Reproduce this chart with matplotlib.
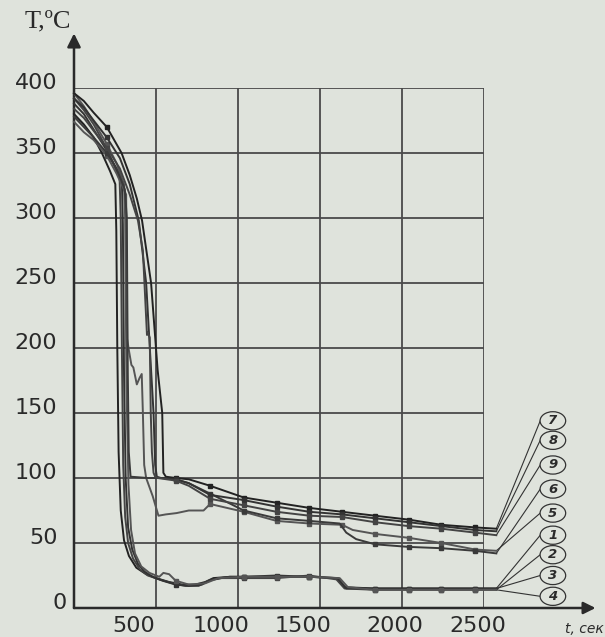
import matplotlib
matplotlib.use("Agg")
import matplotlib.pyplot as plt
from matplotlib.patches import Ellipse
from matplotlib.transforms import ScaledTranslation

# cooling curves, t in s, T in degC
c1_t = [0, 60, 120, 170, 220, 252, 258, 264, 272, 285, 305, 335, 380, 440, 500, 580, 660, 740, 800, 850, 950, 1035, 1235, 1435, 1600, 1650, 1835, 2040, 2240, 2445, 2575]
c1_T = [380, 372, 362, 350, 336, 326, 290, 200, 120, 75, 52, 40, 31, 26, 23, 20, 18, 18, 20, 23, 24, 24, 24, 24, 23, 16, 15, 15, 15, 15, 15]
c2_t = [0, 60, 120, 180, 240, 278, 285, 292, 300, 312, 330, 360, 400, 450, 520, 600, 680, 760, 820, 900, 1035, 1235, 1435, 1600, 1650, 1835, 2040, 2240, 2445, 2575]
c2_T = [392, 383, 372, 358, 342, 330, 300, 200, 110, 70, 50, 38, 30, 25, 22, 19, 17, 17, 21, 23, 23, 23, 25, 22, 15, 14, 14, 14, 14, 14]
c3_t = [0, 60, 120, 190, 250, 292, 298, 305, 315, 330, 355, 390, 430, 480, 540, 620, 700, 780, 840, 950, 1035, 1235, 1435, 1610, 1660, 1835, 2040, 2240, 2445, 2575]
c3_T = [388, 380, 368, 354, 340, 328, 295, 180, 100, 62, 45, 34, 28, 24, 21, 18, 17, 18, 22, 24, 24, 25, 24, 23, 15, 15, 15, 15, 15, 15]
c4_t = [0, 60, 120, 200, 260, 305, 312, 320, 332, 348, 372, 410, 460, 520, 545, 580, 620, 700, 800, 880, 1035, 1235, 1435, 1620, 1670, 1835, 2040, 2240, 2445, 2575]
c4_T = [396, 386, 374, 357, 342, 326, 300, 170, 95, 60, 42, 32, 27, 24, 27, 26, 21, 18, 19, 23, 24, 24, 24, 23, 16, 14, 14, 14, 14, 14]

c5_t = [0, 60, 120, 200, 260, 318, 324, 335, 350, 362, 383, 400, 413, 420, 428, 440, 480, 515, 560, 625, 700, 790, 830, 1035, 1235, 1435, 1635, 1700, 1835, 2040, 2240, 2445, 2575]
c5_T = [374, 366, 360, 348, 334, 318, 207, 198, 187, 185, 172, 177, 180, 150, 110, 100, 86, 71, 72, 73, 75, 75, 80, 74, 67, 65, 64, 60, 57, 54, 50, 45, 44]
c6_t = [0, 60, 120, 200, 260, 310, 322, 328, 334, 345, 450, 560, 620, 700, 830, 1035, 1235, 1435, 1620, 1660, 1720, 1835, 2040, 2240, 2445, 2575]
c6_T = [378, 370, 362, 350, 338, 322, 300, 180, 120, 101, 100, 100, 99, 96, 88, 75, 69, 67, 65, 58, 53, 49, 47, 46, 44, 42]
c7_t = [0, 60, 120, 200, 290, 340, 383, 415, 470, 510, 538, 545, 560, 620, 700, 830, 1035, 1235, 1435, 1635, 1835, 2040, 2240, 2445, 2575]
c7_T = [396, 390, 381, 370, 350, 333, 315, 298, 250, 183, 150, 104, 101, 100, 99, 94, 85, 81, 77, 74, 71, 68, 64, 62, 61]
c8_t = [0, 60, 120, 200, 280, 340, 395, 440, 470, 485, 495, 505, 530, 620, 700, 830, 1035, 1235, 1435, 1635, 1835, 2040, 2240, 2445, 2575]
c8_T = [392, 385, 375, 362, 346, 326, 298, 250, 183, 150, 110, 101, 100, 99, 96, 87, 83, 78, 74, 72, 69, 66, 63, 60, 59]
c9_t = [0, 60, 120, 200, 280, 340, 390, 420, 445, 450, 462, 468, 475, 485, 495, 510, 620, 700, 830, 1035, 1235, 1435, 1635, 1835, 2040, 2240, 2445, 2575]
c9_T = [384, 377, 367, 354, 338, 318, 298, 275, 210, 212, 208, 150, 120, 104, 101, 100, 98, 94, 84, 79, 74, 71, 70, 66, 63, 61, 58, 56]

mark_t = [200, 620, 830, 1035, 1235, 1435, 1635, 1835, 2040, 2240, 2445]

curve_names = ["1", "2", "3", "4", "5", "6", "7", "8", "9"]
label_order = ["7", "8", "9", "6", "5", "1", "2", "3", "4"]
label_T = [144, 129, 110, 91.5, 73, 56, 41, 25, 9]

xticks = [500, 1000, 1500, 2000, 2500]
yticks = [0, 50, 100, 150, 200, 250, 300, 350, 400]
xtick_shift = [-22, -17, -17, -7, -6]   # px, labels sit left of grid lines

BG = "#dfe3dc"
INK = "#2a2a2a"

curves = dict(zip(curve_names, [(c1_t, c1_T), (c2_t, c2_T), (c3_t, c3_T), (c4_t, c4_T),
                                (c5_t, c5_T), (c6_t, c6_T), (c7_t, c7_T), (c8_t, c8_T),
                                (c9_t, c9_T)]))

fig = plt.figure(figsize=(6.05, 6.37), dpi=100, facecolor=BG)
ax = fig.add_axes([74 / 605, 29 / 637, 410 / 605, 520 / 637])
ax.set_facecolor(BG)
ax.set_xlim(0, 2500)
ax.set_ylim(0, 400)
for s in ax.spines.values():
    s.set_visible(False)

ax.set_xticks(xticks)
ax.set_yticks(yticks)
ax.grid(True, color="#4a4a4a", lw=1.3)
ax.tick_params(length=0, labelsize=16, colors=INK)
ax.tick_params(axis="y", pad=12)
ax.tick_params(axis="x", pad=6)
for lbl in ax.get_yticklabels():
    dx = 9 / 100 if lbl.get_text() == "0" else 0
    lbl.set_transform(lbl.get_transform() + ScaledTranslation(dx, 7 / 100, fig.dpi_scale_trans))
for lbl, dx in zip(ax.get_xticklabels(), xtick_shift):
    lbl.set_transform(lbl.get_transform() + ScaledTranslation(dx / 100, 0, fig.dpi_scale_trans))

# axes with arrows
ax.annotate("", xy=(0, 442), xytext=(0, 0), annotation_clip=False,
            arrowprops=dict(arrowstyle="-|>", lw=1.8, color=INK, mutation_scale=20,
                            shrinkA=0, shrinkB=0))
ax.annotate("", xy=(3180, 0), xytext=(0, 0), annotation_clip=False,
            arrowprops=dict(arrowstyle="-|>", lw=1.8, color=INK, mutation_scale=18,
                            shrinkA=0, shrinkB=0))

shades = {"1": "#222", "2": "#444", "3": "#333", "4": "#555", "5": "#555",
          "6": "#3a3a3a", "7": "#222", "8": "#333", "9": "#444"}
for name, (tt, TT) in curves.items():
    idx = [i for i, v in enumerate(tt) if v in mark_t]
    ax.plot(tt, TT, color=shades[name], lw=1.4, clip_on=False,
            marker="s", ms=3.4, markevery=idx, zorder=3)

# numbered callouts at the right
for name, ly in zip(label_order, label_T):
    tt, TT = curves[name]
    ax.plot([tt[-1], 2843], [TT[-1], ly], color="#333", lw=0.8, clip_on=False)
    ax.add_patch(Ellipse((2920, ly), 156, 14, facecolor=BG, edgecolor="#333",
                         lw=0.9, clip_on=False, zorder=4))
    ax.text(2920, ly, name, ha="center", va="center", fontsize=9.5, style="italic",
            fontweight="bold", color=INK, zorder=5)

ax.text(-300, 451, "T,ºC", fontsize=19, family="Liberation Serif", color=INK,
        ha="left", va="center", clip_on=False)
ax.text(2994, -16, "t, сек", fontsize=10, style="italic", color=INK,
        ha="left", va="center", clip_on=False)

plt.savefig("out.png", dpi=100, facecolor=BG)
